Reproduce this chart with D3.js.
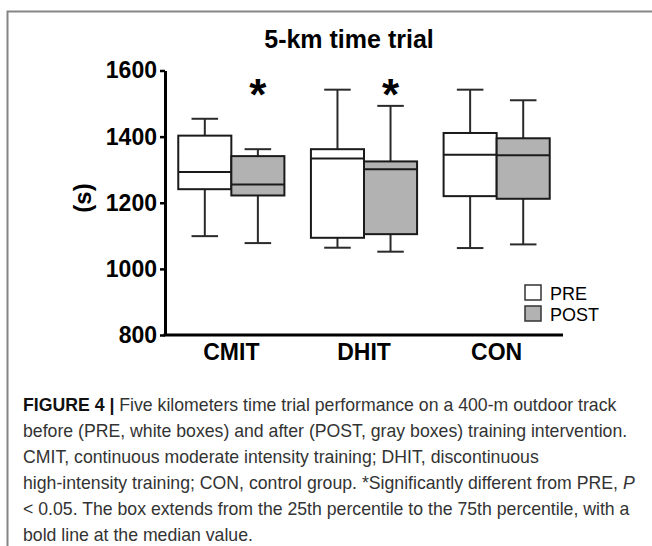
<!DOCTYPE html>
<html>
<head>
<meta charset="utf-8">
<script src="https://cdn.jsdelivr.net/npm/d3@7"></script>
<style>
  body { margin: 0; background: #fff; }
  svg { display: block; font-family: "Liberation Sans", Arial, Helvetica, sans-serif; }
</style>
</head>
<body>
<script>
// groups and series
var groups = ["CMIT", "DHIT", "CON"];
var series = ["PRE", "POST"];

// box plot values (s)
var preMin    = [1099, 1064, 1063];
var preQ1     = [1241, 1094, 1220];
var preMedian = [1293, 1334, 1345];
var preQ3     = [1403, 1362, 1411];
var preMax    = [1454, 1542, 1542];

var postMin    = [1078, 1052, 1074];
var postQ1     = [1222, 1105, 1212];
var postMedian = [1255, 1301, 1344];
var postQ3     = [1341, 1325, 1395];
var postMax    = [1362, 1493, 1510];

// * = significantly different from PRE
var postSignificant = [true, true, false];

var yTicks = [800, 1000, 1200, 1400, 1600];

var captionLines = [
  "Five kilometers time trial performance on a 400-m outdoor track",
  "before (PRE, white boxes) and after (POST, gray boxes) training intervention.",
  "CMIT, continuous moderate intensity training; DHIT, discontinuous",
  "high-intensity training; CON, control group. *Significantly different from PRE, ",
  "< 0.05. The box extends from the 25th percentile to the 75th percentile, with a",
  "bold line at the median value."
];

var width = 652, height = 546;
var fillColor = {PRE: "#ffffff", POST: "#b2b2b2"};

var svg = d3.select("body").append("svg")
    .attr("width", width)
    .attr("height", height);

// frame
svg.append("path")
    .attr("d", "M7.5," + height + "V11.5H" + width)
    .attr("fill", "none")
    .attr("stroke", "#858585")
    .attr("stroke-width", 2);

var x = d3.scaleBand().domain(groups).range([165, 563]).padding(0);
var y = d3.scaleLinear().domain([800, 1600]).range([335, 70.5]);
var boxW = x.bandwidth() * 0.4;
var capW = boxW * 0.5;

// title
svg.append("text")
    .attr("x", 349).attr("y", 48)
    .attr("text-anchor", "middle")
    .attr("font-size", 25).attr("font-weight", "bold")
    .text("5-km time trial");

// y axis
var yAxis = d3.axisLeft(y).tickValues(yTicks).tickFormat(d3.format("d"))
    .tickSize(5).tickSizeOuter(0).tickPadding(3);
var gy = svg.append("g").attr("transform", "translate(165,0)").call(yAxis);
gy.select(".domain").attr("stroke-width", 3).attr("stroke", "#000");
gy.selectAll(".tick line").attr("stroke-width", 2.5).attr("stroke", "#000");
gy.selectAll(".tick text")
    .attr("font-size", 23).attr("font-weight", "bold")
    .attr("font-family", "'Liberation Sans', Arial, sans-serif")
    .attr("fill", "#000");

svg.append("text")
    .attr("transform", "translate(91,198) rotate(-90)")
    .attr("text-anchor", "middle")
    .attr("font-size", 24).attr("font-weight", "bold")
    .text("(s)");

// x axis
var xAxis = d3.axisBottom(x).tickSize(0).tickSizeOuter(0).tickPadding(9);
var gx = svg.append("g").attr("transform", "translate(0," + y(800) + ")").call(xAxis);
gx.select(".domain").attr("stroke-width", 3).attr("stroke", "#000")
    .attr("d", "M163.5,0H563");
gx.selectAll(".tick text")
    .attr("font-size", 23).attr("font-weight", "bold")
    .attr("font-family", "'Liberation Sans', Arial, sans-serif")
    .attr("fill", "#000");

// boxes
var boxes = [];
groups.forEach(function(g, i) {
  boxes.push({group: g, s: "PRE", min: preMin[i], q1: preQ1[i], med: preMedian[i], q3: preQ3[i], max: preMax[i], star: false});
  boxes.push({group: g, s: "POST", min: postMin[i], q1: postQ1[i], med: postMedian[i], q3: postQ3[i], max: postMax[i], star: postSignificant[i]});
});

function cx(d) {
  var mid = x(d.group) + x.bandwidth() / 2;
  return d.s == "PRE" ? mid - boxW / 2 : mid + boxW / 2;
}

var bg = svg.append("g").selectAll("g").data(boxes).enter().append("g");

bg.append("line")
    .attr("x1", cx).attr("x2", cx)
    .attr("y1", function(d){ return y(d.max); })
    .attr("y2", function(d){ return y(d.min); })
    .attr("stroke", "#2a2a2a").attr("stroke-width", 2);

bg.selectAll(".cap").data(function(d){ return [{d: d, v: d.max}, {d: d, v: d.min}]; })
  .enter().append("line")
    .attr("x1", function(c){ return cx(c.d) - capW / 2; })
    .attr("x2", function(c){ return cx(c.d) + capW / 2; })
    .attr("y1", function(c){ return y(c.v); })
    .attr("y2", function(c){ return y(c.v); })
    .attr("stroke", "#2a2a2a").attr("stroke-width", 2);

bg.append("rect")
    .attr("x", function(d){ return cx(d) - boxW / 2; })
    .attr("width", boxW)
    .attr("y", function(d){ return y(d.q3); })
    .attr("height", function(d){ return y(d.q1) - y(d.q3); })
    .attr("fill", function(d){ return fillColor[d.s]; })
    .attr("stroke", "#1a1a1a").attr("stroke-width", 2);

bg.append("line")
    .attr("x1", function(d){ return cx(d) - boxW / 2; })
    .attr("x2", function(d){ return cx(d) + boxW / 2; })
    .attr("y1", function(d){ return y(d.med); })
    .attr("y2", function(d){ return y(d.med); })
    .attr("stroke", "#1a1a1a").attr("stroke-width", 2);

bg.filter(function(d){ return d.star; }).append("text")
    .attr("x", cx)
    .attr("y", 110)
    .attr("text-anchor", "middle")
    .attr("font-size", 44).attr("font-weight", "bold")
    .text("*");

// legend
var leg = svg.append("g").selectAll("g").data(series).enter().append("g")
    .attr("transform", function(d, i){ return "translate(525," + (285 + i * 21) + ")"; });
leg.append("rect")
    .attr("width", 16).attr("height", 15)
    .attr("fill", function(d){ return fillColor[d]; })
    .attr("stroke", "#333").attr("stroke-width", 1.5);
leg.append("text")
    .attr("x", 25).attr("y", 14.5)
    .attr("font-size", 18)
    .text(function(d){ return d; });

// caption: one horizontal squeeze for all lines, set so line 1 spans 23..617
var cap = svg.append("g").attr("fill", "#333")
    .attr("font-family", "'Liberation Sans', Arial, sans-serif")
    .attr("font-size", 18);
var capText = [];
captionLines.forEach(function(line, i) {
  var t = cap.append("text")
      .attr("x", 0)
      .attr("y", 411 + i * 26);
  if (i == 0) {
    t.append("tspan").attr("font-weight", "bold").attr("fill", "#111").text("FIGURE 4 | ");
  }
  t.append("tspan").text(line);
  if (i == 3) {
    t.append("tspan").attr("font-style", "italic").text("P");
  }
  capText.push(t);
});
var k = 594 / capText[0].node().getComputedTextLength();
cap.attr("transform", "translate(23,0) scale(" + k + ",1)");
</script>
</body>
</html>
